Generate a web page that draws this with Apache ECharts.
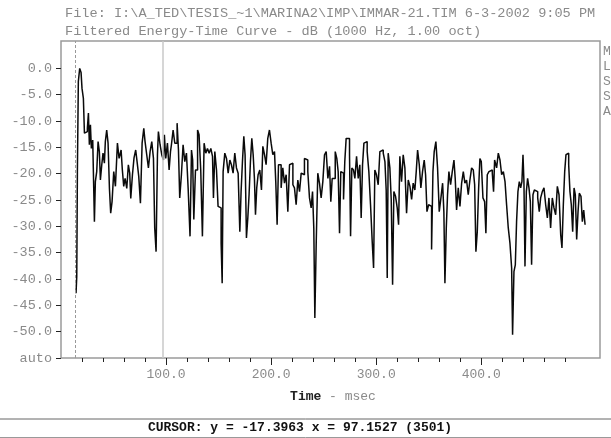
<!DOCTYPE html>
<html><head><meta charset="utf-8">
<script src="https://cdn.jsdelivr.net/npm/echarts@6/dist/echarts.min.js"></script>
<style>html,body{margin:0;padding:0;background:#fff}#c{width:611px;height:438px}</style>
</head><body><div id="c"></div>
<script>
// ---- data (time in msec, level in dB) ----
const times = [14.3,15.0,15.6,16.5,17.8,19.1,20.0,21.3,22.3,23.8,25.1,26.1,27.0,28.0,28.9,30.2,31.8,32.7,34.0,35.3,36.5,37.5,38.8,40.0,41.3,42.2,43.5,44.8,46.1,47.3,48.6,50.2,51.8,53.7,55.3,57.2,58.4,59.7,61.0,62.6,64.1,65.4,66.4,68.0,69.5,71.1,72.4,74.0,75.6,77.2,78.8,80.0,81.6,83.2,84.8,86.4,88.0,89.2,90.5,91.8,92.7,94.3,95.9,97.5,98.4,99.7,101.3,102.9,104.2,
105.1,106.7,108.3,110.5,111.8,113.0,114.6,116.2,117.8,119.4,121.0,122.8,124.2,125.3,126.4,128.0,130.0,131.4,133.0,134.6,136.2,137.8,139.4,141.0,142.6,144.2,145.1,146.4,148.0,149.5,151.1,152.4,153.4,154.3,155.9,157.5,159.1,160.7,162.2,163.8,165.4,167.0,168.6,170.2,171.4,172.7,174.0,175.2,176.5,177.8,179.0,180.3,181.6,182.9,184.1,185.1,186.3,187.6,189.2,190.8,192.1,193.7,195.2,196.8,198.4,200.0,201.6,203.2,204.4,205.7,207.0,
208.0,209.5,211.1,212.7,214.3,215.9,217.5,219.1,220.7,222.2,223.8,225.4,227.0,228.6,230.2,231.7,233.3,234.9,236.5,238.1,239.4,240.6,241.6,242.9,244.4,246.0,247.6,249.2,250.8,252.4,254.0,255.6,256.8,258.1,259.4,261.0,262.5,263.8,265.1,266.3,267.6,268.9,270.1,271.4,273.0,274.6,275.6,276.8,278.4,279.7,281.3,282.9,284.4,285.7,287.0,288.3,289.8,291.4,293.0,294.6,296.2,297.5,298.7,300.3,301.9,303.5,305.1,306.7,308.3,309.5,310.5,
311.4,313.0,314.3,315.6,316.8,318.4,320.0,321.3,322.5,324.1,325.7,327.3,328.9,330.5,332.1,333.7,335.2,336.8,338.1,339.4,341.0,342.5,344.1,345.7,347.0,348.3,349.9,351.4,352.7,354.0,355.2,356.8,358.4,360.0,361.6,363.2,364.4,365.4,366.7,367.9,369.2,370.8,372.4,374.0,375.2,376.5,378.1,379.7,381.3,382.9,384.4,386.0,387.6,389.2,390.8,392.4,393.7,394.9,396.2,397.5,398.7,400.0,401.6,403.2,404.4,405.7,407.3,408.9,410.5,411.7,412.7,
414.6,416.2,417.8,419.4,421.0,422.6,424.1,425.7,427.3,428.9,429.8,431.1,432.4,433.6,434.9,436.2,437.5,438.7,439.7,440.6,441.6,442.9,444.1,445.4,446.7,447.9,449.2,450.5,452.1,453.7,455.2,456.5,458.1,459.7,461.3,462.9,464.4,466.0,467.6,469.2,470.8,472.4,474.0,475.6,476.8,478.1,479.4,480.6,481.9,483.2,484.4,485.7,487.0,488.3,489.5,490.8,492.1,493.3,494.9,496.2,497.5,498.8];
const levels = [-42.7,-39.5,-19.6,-2.5,0.0,-0.8,-3.8,-5.7,-12.3,-12.0,-11.4,-8.5,-14.5,-10.7,-15.2,-13.6,-29.1,-21.5,-19.6,-13.9,-15.8,-21.2,-18.3,-16.1,-18.0,-13.9,-11.7,-14.2,-22.8,-27.5,-25.3,-19.6,-22.4,-14.2,-17.1,-15.5,-19.3,-22.4,-20.9,-22.8,-18.3,-19.9,-24.7,-20.2,-17.0,-15.5,-17.7,-20.5,-25.6,-14.2,-11.4,-13.9,-16.4,-18.9,-15.8,-13.9,-17.1,-30.3,-34.8,-16.4,-12.0,-14.5,-16.4,-17.4,-12.6,-17.1,-14.2,-19.3,-15.8,
-14.5,-11.7,-14.2,-10.4,-15.5,-24.6,-20.2,-14.5,-17.7,-16.1,-22.7,-31.9,-15.5,-17.4,-28.7,-19.3,-11.7,-12.6,-19.3,-31.9,-14.2,-16.1,-15.2,-16.1,-15.2,-16.7,-24.6,-15.8,-19.3,-26.2,-26.5,-33.2,-40.8,-19.6,-16.1,-17.1,-19.9,-17.4,-18.3,-19.9,-16.1,-18.9,-19.9,-31.0,-23.4,-17.7,-12.9,-16.4,-32.2,-28.4,-24.0,-17.7,-13.3,-16.4,-20.9,-27.8,-22.7,-20.2,-19.3,-23.1,-14.8,-16.4,-18.3,-13.3,-11.7,-14.2,-16.4,-15.8,-21.5,-29.7,-18.3,
-18.3,-22.7,-18.9,-21.8,-20.2,-27.2,-18.3,-18.0,-22.1,-22.7,-25.9,-21.2,-23.4,-19.9,-20.2,-17.1,-17.4,-19.6,-24.6,-26.5,-23.4,-30.3,-47.4,-33.2,-19.9,-21.8,-24.6,-21.5,-16.4,-15.8,-20.9,-18.6,-25.3,-20.9,-20.9,-15.8,-17.1,-19.6,-31.3,-19.6,-19.9,-24.9,-17.7,-13.3,-13.3,-16.4,-31.9,-18.9,-19.3,-20.9,-16.7,-20.9,-18.3,-28.4,-18.3,-14.2,-13.9,-15.8,-19.6,-25.9,-32.9,-37.9,-19.3,-20.2,-22.1,-15.8,-15.5,-16.1,-17.7,-23.1,-39.8,
-16.1,-18.9,-24.9,-41.1,-23.4,-24.3,-26.5,-29.7,-16.7,-21.5,-16.4,-18.9,-27.5,-21.2,-22.4,-24.9,-21.8,-23.1,-19.6,-15.5,-18.3,-22.7,-19.6,-17.4,-20.2,-27.2,-25.9,-26.2,-34.4,-19.6,-15.8,-13.9,-18.9,-27.2,-24.6,-21.8,-27.2,-40.8,-30.3,-24.0,-19.6,-22.1,-19.6,-17.4,-20.9,-26.9,-22.7,-26.2,-21.8,-19.6,-21.8,-21.2,-24.0,-21.2,-18.9,-19.3,-22.1,-34.8,-31.0,-22.7,-17.1,-17.7,-24.6,-25.3,-31.3,-20.2,-19.6,-19.3,-19.9,-23.4,-17.4,
-18.9,-16.1,-17.4,-20.2,-19.6,-21.5,-25.9,-30.3,-33.2,-37.9,-50.6,-38.6,-37.3,-29.1,-23.4,-21.5,-22.7,-21.5,-16.4,-21.5,-37.6,-23.4,-20.9,-22.7,-25.3,-37.3,-24.0,-23.1,-23.4,-24.6,-27.2,-24.6,-23.4,-22.7,-25.9,-28.4,-24.6,-30.3,-24.6,-26.5,-27.8,-22.4,-24.0,-31.6,-34.1,-25.9,-19.6,-16.4,-16.1,-18.3,-23.4,-25.9,-31.0,-22.7,-24.0,-32.5,-27.2,-23.7,-24.3,-29.1,-26.9,-29.7];
const yTicks = [0,-5,-10,-15,-20,-25,-30,-35,-40,-45,-50,-55];
const xMinorTicks = [20,40,60,80,120,140,160,180,220,240,260,280,320,340,360,380,420,440,460,480];
const xMajorTicks = [100,200,300,400];
const startMarkX = 14.0;
const cursorX = 97.1527, cursorY = -17.3963, cursorIdx = 3501;
const titleLine1 = 'File: I:\\A_TED\\TESIS_~1\\MARINA2\\IMP\\IMMAR-21.TIM 6-3-2002 9:05 PM';
const titleLine2 = 'Filtered Energy-Time Curve - dB (1000 Hz, 1.00 oct)';
const sideLetters = ['M','L','S','S','A'];

const MONO = '"Liberation Mono","DejaVu Sans Mono",monospace';
const chart = echarts.init(document.getElementById('c'), null, {renderer:'canvas'});
const data = times.map((t,i)=>[t, levels[i]]);
const baseX = {type:'value', min:0, max:513, position:'bottom', splitLine:{show:false}, axisLine:{show:false, onZero:false}};
chart.setOption({
  animation:false,
  backgroundColor:'#fff',
  grid:{left:61, right:11, top:41, bottom:80, show:true, borderColor:'#9a9a9a', borderWidth:1.5, backgroundColor:'#fff'},
  xAxis:[
    Object.assign({}, baseX, {
      axisTick:{show:true, customValues:xMinorTicks, length:4, lineStyle:{color:'#222'}},
      axisLabel:{customValues:xMajorTicks, formatter:v=>v.toFixed(1), color:'#8a8a8a', fontFamily:MONO, fontSize:13, margin:10}
    }),
    Object.assign({}, baseX, {
      axisTick:{show:true, customValues:xMajorTicks, length:7, lineStyle:{color:'#222'}},
      axisLabel:{show:false}
    })
  ],
  yAxis:{type:'value', min:-55, max:5.2, splitLine:{show:false}, axisLine:{show:false, onZero:false},
    axisTick:{show:true, customValues:yTicks, length:5, lineStyle:{color:'#222'}},
    axisLabel:{customValues:yTicks, formatter:v=> v===-55 ? 'auto' : v.toFixed(1), color:'#8a8a8a', fontFamily:MONO, fontSize:13.5, margin:9}
  },
  series:[{
    type:'line', step:'end', data:data, showSymbol:false, xAxisIndex:0,
    lineStyle:{color:'#0a0a0a', width:1.5},
    markLine:{symbol:'none', silent:true, label:{show:false},
      data:[
        {xAxis:startMarkX, lineStyle:{color:'#999', type:[3,2], width:1}},
        {xAxis:cursorX, lineStyle:{color:'#c8c8c8', type:'solid', width:1.5}}
      ]}
  }],
  graphic:[
    {type:'text', left:65, top:6, style:{text:titleLine1, fill:'#8a8a8a', font:'13.6px '+MONO}},
    {type:'text', left:65, top:24, style:{text:titleLine2, fill:'#8a8a8a', font:'13.6px '+MONO}},
    {type:'text', x:333, y:397, style:{text:'{a|Time}{b| - msec}', align:'center', verticalAlign:'middle',
      rich:{a:{fill:'#222', fontWeight:'bold', fontFamily:MONO, fontSize:13}, b:{fill:'#8a8a8a', fontFamily:MONO, fontSize:13}}}},
    ...sideLetters.map((s,i)=>({type:'text', x:603, y:52+i*15, style:{text:s, fill:'#8a8a8a', font:'13px '+MONO, verticalAlign:'middle'}})),
    {type:'line', shape:{x1:0,y1:419,x2:611,y2:419}, style:{stroke:'#666', lineWidth:1}},
    {type:'line', shape:{x1:0,y1:437.5,x2:611,y2:437.5}, style:{stroke:'#999', lineWidth:1}},
    {type:'text', x:300, y:428, style:{text:'CURSOR: y = '+cursorY.toFixed(4)+' x = '+cursorX.toFixed(4)+' ('+cursorIdx+')', align:'center', verticalAlign:'middle', fill:'#111', font:'bold 13px '+MONO}}
  ]
});
</script></body></html>
